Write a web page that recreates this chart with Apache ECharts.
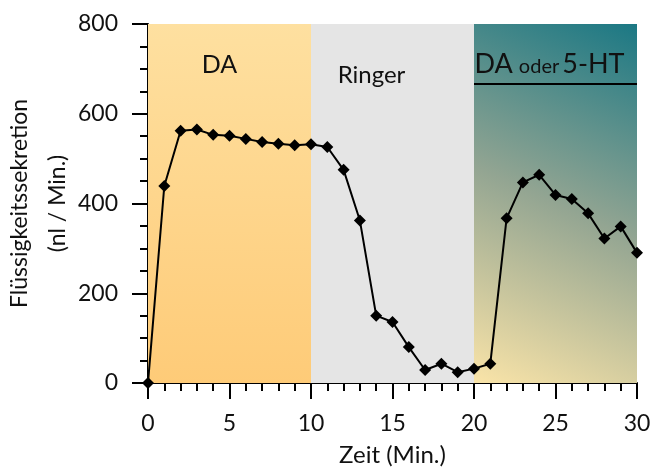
<!DOCTYPE html>
<html>
<head>
<meta charset="utf-8">
<script src="https://cdn.jsdelivr.net/npm/echarts@6/dist/echarts.min.js"></script>
<style>
  html, body { margin: 0; padding: 0; background: #fff; }
  #chart { width: 651px; height: 468px; }
</style>
</head>
<body>
<div id="chart"></div>
<script>
// Zeit in Minuten
var zeit = [0, 1, 2, 3, 4, 5, 6, 7, 8, 9, 10, 11, 12, 13, 14, 15, 16, 17, 18, 19, 20, 21, 22, 23, 24, 25, 26, 27, 28, 29, 30];
// Flüssigkeitssekretion (nl / Min.)
var sekretion = [0, 439, 562, 565, 553, 551, 544, 537, 533, 530, 532, 526, 475, 362, 150, 136, 80, 29, 43, 24, 32, 43, 367, 447, 464, 419, 410, 378, 322, 349, 290];
// Phasen
var phasen = [
  { name: 'DA', from: 0, to: 10 },
  { name: 'Ringer', from: 10, to: 20 },
  { name: 'DA oder 5-HT', from: 20, to: 30 }
];
var yTicks = [0, 200, 400, 600, 800];

var font = 'Lato, "DejaVu Sans", sans-serif';
var chart = echarts.init(document.getElementById('chart'));

var bgColors = [
  new echarts.graphic.LinearGradient(0, 0, 0, 1, [
    { offset: 0, color: '#FEE0A0' },
    { offset: 1, color: '#FECB78' }
  ]),
  '#E5E5E5',
  new echarts.graphic.LinearGradient(0, 1, 1, 0, [
    { offset: 0, color: '#FAE4A8' },
    { offset: 0.5, color: '#93A592' },
    { offset: 1, color: '#1B7884' }
  ])
];

var labelCfg = [
  { show: true, position: 'insideTop', distance: 28, formatter: 'DA', fontSize: 25, color: '#111', fontFamily: font, offset: [-10, 0] },
  { show: true, position: 'insideTop', distance: 39, formatter: 'Ringer', fontSize: 24, color: '#111', fontFamily: font, offset: [-21, 0] },
  { show: true, position: 'insideTop', distance: 27, formatter: '{a|DA}  {b|oder} {a|5-HT}', color: '#111', fontFamily: font, offset: [-6, 0],
    rich: { a: { fontSize: 27, fontFamily: font, color: '#111' }, b: { fontSize: 20, fontFamily: font, color: '#111', padding: [4, 0, 0, 0] } } }
];

var option = {
  animation: false,
  backgroundColor: '#fff',
  grid: { left: 148, right: 14, top: 24, bottom: 85, containLabel: false, outerBoundsMode: 'none' },
  xAxis: {
    type: 'value',
    min: 0,
    max: 30,
    interval: 5,
    name: 'Zeit (Min.)',
    nameLocation: 'middle',
    nameGap: 60,
    nameMoveOverlap: false,
    nameTextStyle: { fontSize: 24, color: '#111', fontFamily: font },
    axisLine: { lineStyle: { color: '#000', width: 2 } },
    axisTick: { inside: false, length: 16, lineStyle: { color: '#000', width: 2 } },
    minorTick: { show: true, splitNumber: 5, length: 8, lineStyle: { color: '#000', width: 2 } },
    axisLabel: { fontSize: 23, color: '#111', fontFamily: font, margin: 29 },
    splitLine: { show: false }
  },
  yAxis: {
    type: 'value',
    min: yTicks[0],
    max: yTicks[yTicks.length - 1],
    interval: 200,
    name: 'Flüssigkeitssekretion\n(nl / Min.)',
    nameLocation: 'middle',
    nameGap: 71,
    nameMoveOverlap: false,
    nameTextStyle: { fontSize: 23, color: '#111', fontFamily: font, lineHeight: 38 },
    axisLine: { lineStyle: { color: '#000', width: 2 } },
    axisTick: { inside: false, length: 16, lineStyle: { color: '#000', width: 2 } },
    minorTick: { show: true, splitNumber: 4, length: 8, lineStyle: { color: '#000', width: 2 } },
    axisLabel: { fontSize: 23, color: '#111', fontFamily: font, margin: 30 },
    splitLine: { show: false }
  },
  series: [{
    type: 'line',
    data: zeit.map(function (t, i) { return [t, sekretion[i]]; }),
    symbol: 'diamond',
    symbolSize: 12,
    showAllSymbol: true,
    lineStyle: { color: '#000', width: 2 },
    itemStyle: { color: '#000' },
    z: 5,
    markArea: {
      silent: true,
      z: 1,
      data: phasen.map(function (p, i) {
        return [
          { xAxis: p.from, yAxis: yTicks[yTicks.length - 1], itemStyle: { color: bgColors[i] }, label: labelCfg[i] },
          { xAxis: p.to, yAxis: 0 }
        ];
      })
    },
    markLine: {
      silent: true,
      symbol: 'none',
      label: { show: false },
      lineStyle: { color: '#000', width: 2, type: 'solid' },
      data: [[{ coord: [phasen[2].from, 666] }, { coord: [phasen[2].to, 666] }]]
    }
  }]
};

chart.setOption(option);
</script>
</body>
</html>
